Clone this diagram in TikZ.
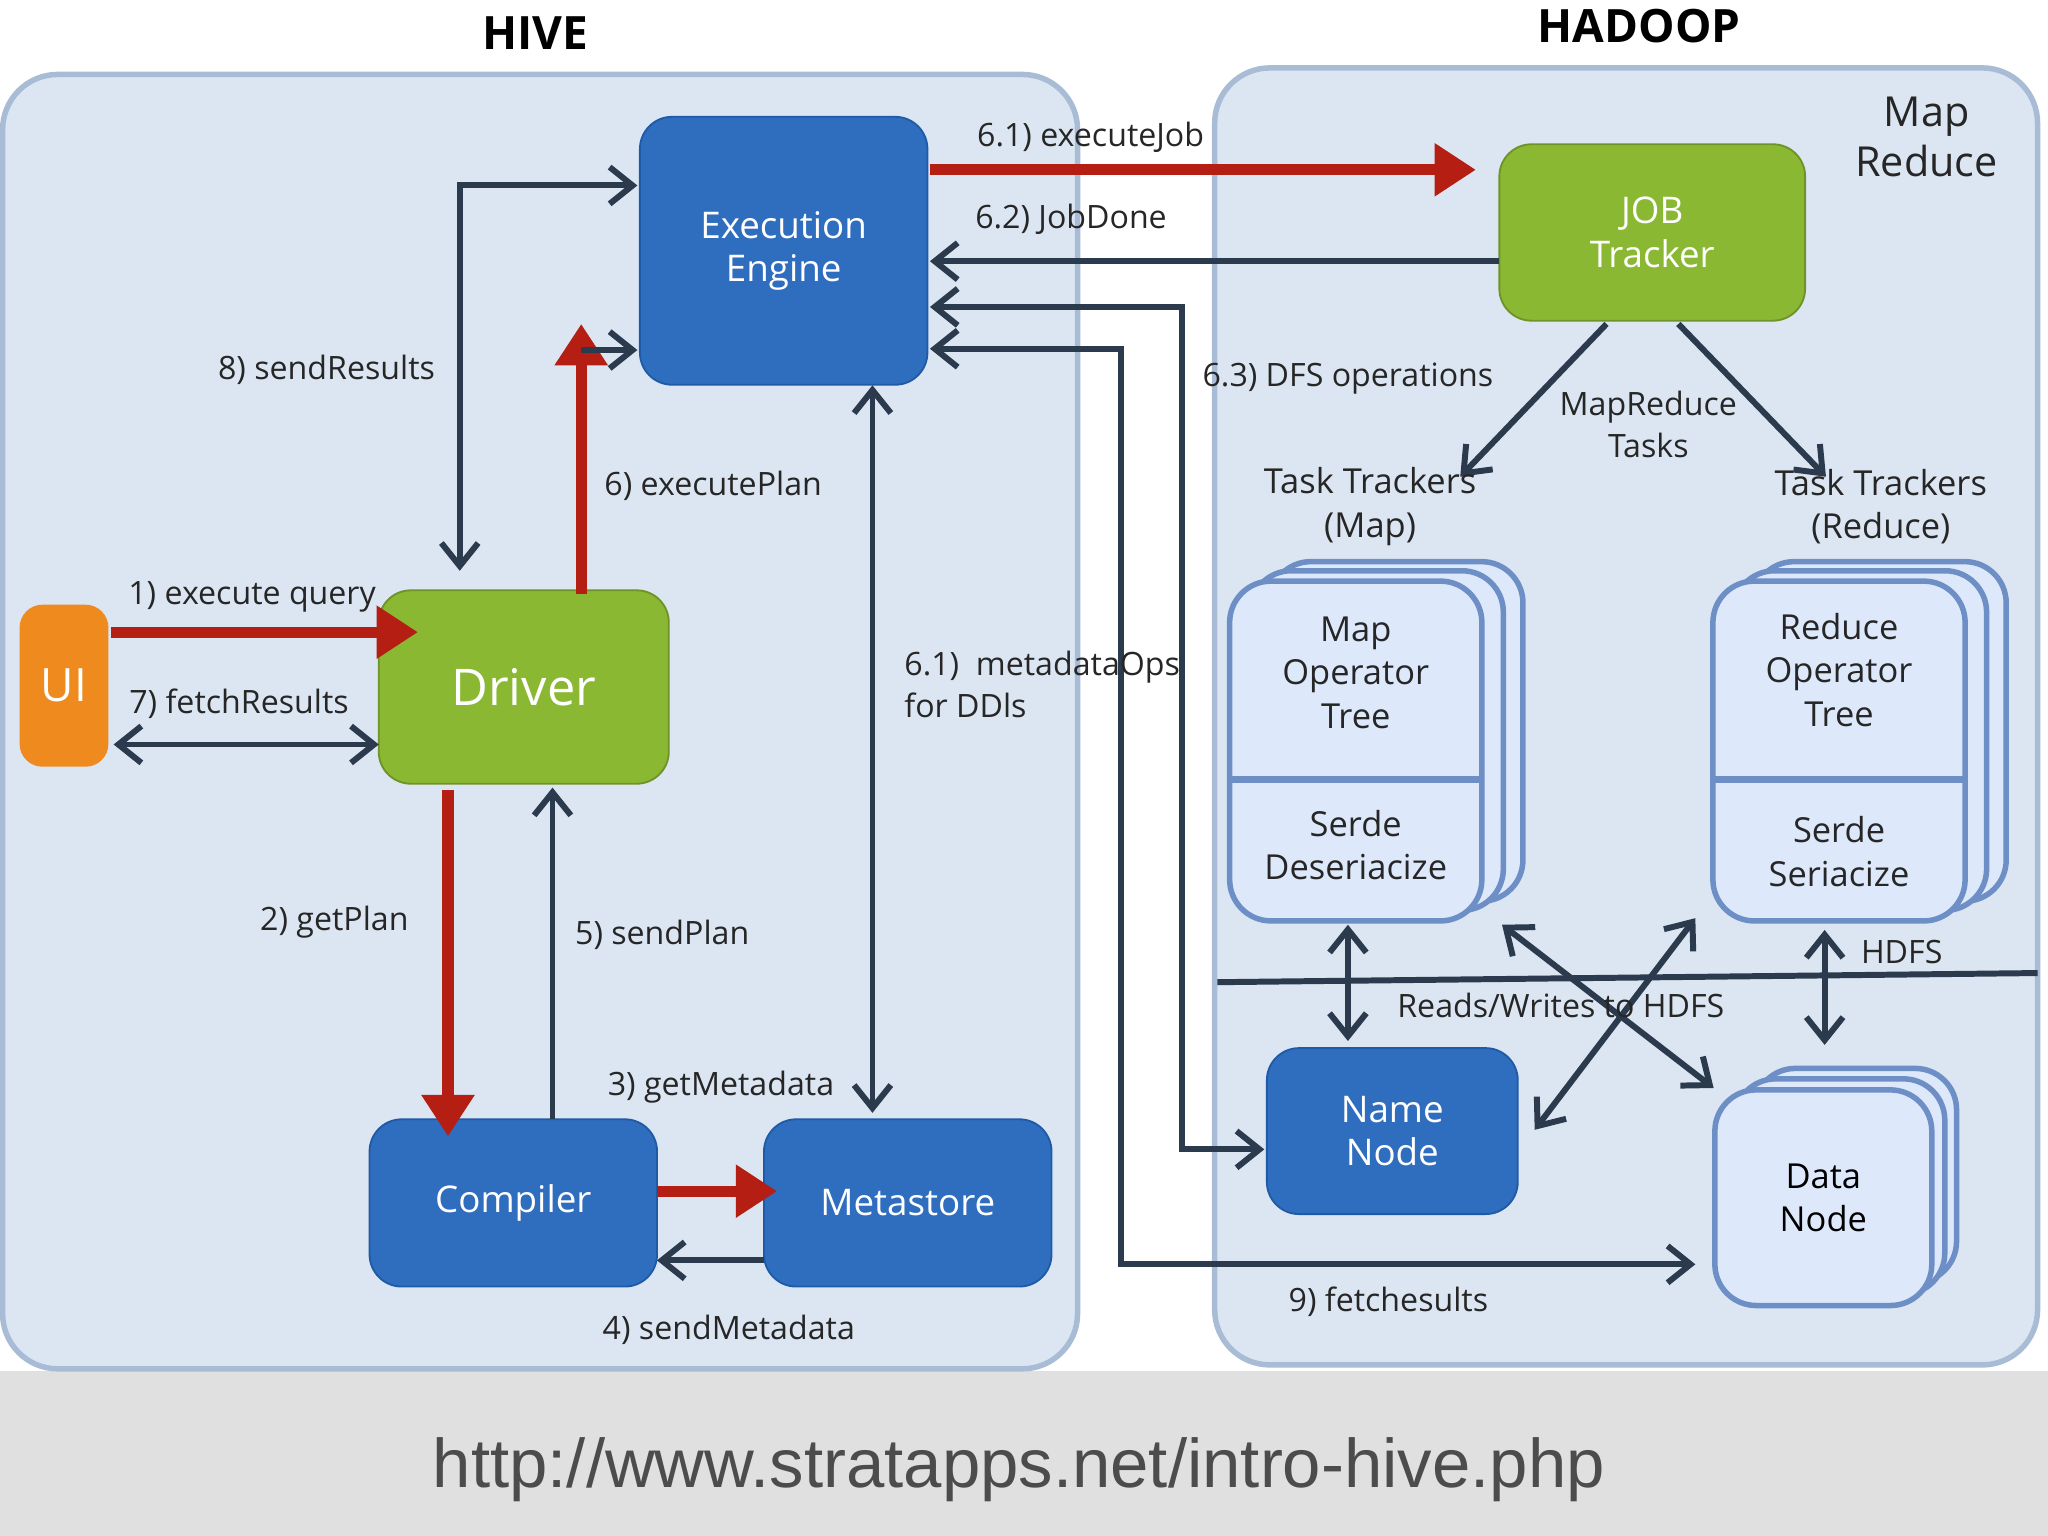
\documentclass[tikz,border=0pt]{standalone}
\usepackage{fontspec}
\setmainfont{Open Sans}
\newfontfamily\urlfont{Liberation Sans}
\usetikzlibrary{arrows.meta}
\definecolor{panel}{HTML}{DCE6F2}
\definecolor{panelb}{HTML}{A9BCD6}
\definecolor{bluebox}{HTML}{2F6DBE}
\definecolor{blueboxd}{HTML}{1F5AA6}
\definecolor{greenbox}{HTML}{8AB832}
\definecolor{orangebox}{HTML}{EE8A1E}
\definecolor{lightbox}{HTML}{DDE8FB}
\definecolor{lightboxb}{HTML}{6D8FC6}
\definecolor{darrow}{HTML}{2B3A4D}
\definecolor{redarrow}{HTML}{B51E12}
\tikzset{
  panel/.style={draw=panelb,fill=panel,line width=1.2pt,rounded corners=12pt},
  blue/.style={fill=bluebox,draw=blueboxd,rounded corners=7pt,text=white,align=center,font=\fontsize{8}{9.5}\selectfont},
  green/.style={fill=greenbox,draw=greenbox!80!black,rounded corners=7pt,text=white,align=center,font=\fontsize{8}{9.5}\selectfont},
  light/.style={fill=lightbox,draw=lightboxb,line width=1.2pt,rounded corners=9pt},
  lbl/.style={font=\fontsize{7}{9}\selectfont,text=black!85,align=center},
  red/.style={draw=redarrow,line width=2.4pt,-{Triangle[length=9pt,width=11pt]}},
  dk/.style={draw=darrow,line width=1.3pt,-{Straight Barb[length=5pt,width=8pt]}},
  dkk/.style={draw=darrow,line width=1.3pt,{Straight Barb[length=5pt,width=8pt]}-{Straight Barb[length=5pt,width=8pt]}},
}
\begin{document}
\begin{tikzpicture}[x=0.01cm,y=-0.01cm]
\useasboundingbox (0,0) rectangle (1568,1176);
\fill[white] (0,0) rectangle (1568,1050);
\fill[black!12] (0,1050) rectangle (1568,1176);
\node[font=\urlfont\fontsize{15}{17}\selectfont,text=black!70] (url) at (780,1125) {http://www.stratapps.net/intro-hive.php};
% panels
\draw[panel] (2,57) rectangle (825,1048);
\draw[panel] (930,52) rectangle (1560,1045);
\node[font=\bfseries\fontsize{10}{12}\selectfont] (hive) at (410,25) {HIVE};
\node[font=\bfseries\fontsize{10}{12}\selectfont] (hadoop) at (1255,20) {HADOOP};
\node[lbl,font=\fontsize{9}{11}\selectfont] (mr) at (1475,105) {Map\\Reduce};
% HDFS line
\draw[darrow,line width=1.3pt] (932,752) -- (1560,745);
% boxes
\node[blue,minimum width=2.2cm,minimum height=2.05cm] (exec) at (600,192) {Execution\\Engine};
\node[green,minimum width=2.34cm,minimum height=1.35cm] (job) at (1265,178) {JOB\\Tracker};
\node[fill=orangebox,rounded corners=5pt,text=white,minimum width=0.68cm,minimum height=1.24cm,font=\fontsize{10}{12}\selectfont] (ui) at (49,525) {UI};
\node[green,minimum width=2.22cm,minimum height=1.48cm,font=\fontsize{11}{13}\selectfont] (driver) at (401,526) {Driver};
\node[blue,minimum width=2.2cm,minimum height=1.28cm] (comp) at (393,921) {Compiler};
\node[blue,minimum width=2.2cm,minimum height=1.28cm] (meta) at (695,921) {Metastore};
\node[blue,minimum width=1.92cm,minimum height=1.27cm] (nn) at (1066,866) {Name\\Node};
% data node stack
\draw[light] (1343,818) rectangle (1498,982);
\draw[light] (1328,826) rectangle (1489,991);
\node[light,minimum width=1.66cm,minimum height=1.65cm,align=center,font=\fontsize{7.5}{9.5}\selectfont] (dn) at (1396,917) {Data\\Node};
% map stack
\draw[light] (972,430) rectangle (1166,690);
\draw[light] (957,437) rectangle (1151,697);
\node[light,minimum width=1.93cm,minimum height=2.6cm] (map) at (1038,575) {};
\draw[lightboxb,line width=1.5pt] (942,597) -- (1135,597);
\node[lbl,font=\fontsize{7.5}{9.5}\selectfont] (mapt) at (1038,515) {Map\\Operator\\Tree};
\node[lbl,font=\fontsize{7.5}{9.5}\selectfont] (maps) at (1038,647) {Serde\\Deseriacize};
% reduce stack
\draw[light] (1342,430) rectangle (1536,690);
\draw[light] (1327,437) rectangle (1521,697);
\node[light,minimum width=1.93cm,minimum height=2.6cm] (red) at (1408,575) {};
\draw[lightboxb,line width=1.5pt] (1312,597) -- (1505,597);
\node[lbl,font=\fontsize{7.5}{9.5}\selectfont] (redt) at (1408,513) {Reduce\\Operator\\Tree};
\node[lbl,font=\fontsize{7.5}{9.5}\selectfont] (reds) at (1408,652) {Serde\\Seriacize};
% coordinates
\coordinate (sr1) at (352,437); \coordinate (sr2) at (352,142);
\coordinate (dfs1) at (905,235); \coordinate (dfs2) at (905,880);
\coordinate (fr1) at (858,267); \coordinate (fr2) at (858,968);
% red arrows
\draw[red] (85,484) -- (320,484);
\draw[red] (445,455) -- (445,248);
\draw[red] (343,605) -- (343,870);
\draw[red] (503,912) -- (595,912);
\draw[red] (712,130) -- (1130,130);
% dark arrows
\draw[dkk] (sr1) -- (sr2) -- (488,142);
\draw[dk] (445,268) -- (488,268);
\draw[dkk] (87,570) -- (290,570);
\draw[dk] (423,857) -- (423,603);
\draw[dk] (585,965) -- (503,965);
\draw[dkk] (668,295) -- (668,852);
\draw[dk] (1148,200) -- (712,200);
\draw[dkk] (712,235) -- (dfs1) -- (dfs2) -- (968,880);
\draw[dkk] (712,267) -- (fr1) -- (fr2) -- (1298,968);
\draw[dk] (1230,248) -- (1118,365);
\draw[dk] (1285,248) -- (1398,365);
\draw[dkk] (1032,708) -- (1032,797);
\draw[dkk] (1397,712) -- (1397,800);
\draw[dkk] (1150,708) -- (1312,833);
\draw[dkk] (1298,703) -- (1175,865);
% labels
\node[lbl] at (835,105) {6.1) executeJob};
\node[lbl] at (820,168) {6.2) JobDone};
\node[lbl] at (250,283) {8) sendResults};
\node[lbl] at (546,372) {6) executePlan};
\node[lbl] at (193,457) {1) execute query};
\node[lbl] at (183,539) {7) fetchResults};
\node[lbl] at (256,706) {2) getPlan};
\node[lbl] at (507,716) {5) sendPlan};
\node[lbl] at (552,832) {3) getMetadata};
\node[lbl] at (558,1018) {4) sendMetadata};
\node[lbl,align=left,anchor=west] at (680,524) {6.1)~~metadataOps\\for DDls};
\node[lbl] at (1032,290) {6.3) DFS operations};
\node[lbl] at (1262,325) {MapReduce\\Tasks};
\node[lbl,font=\fontsize{7.5}{9.5}\selectfont] at (1049,388) {Task Trackers\\(Map)};
\node[lbl,font=\fontsize{7.5}{9.5}\selectfont] at (1440,388) {Task Trackers\\(Reduce)};
\node[lbl] at (1456,729) {HDFS};
\node[lbl] at (1195,770) {Reads/Writes to HDFS};
\node[lbl] at (1063,997) {9) fetchesults};
\end{tikzpicture}
\end{document}
